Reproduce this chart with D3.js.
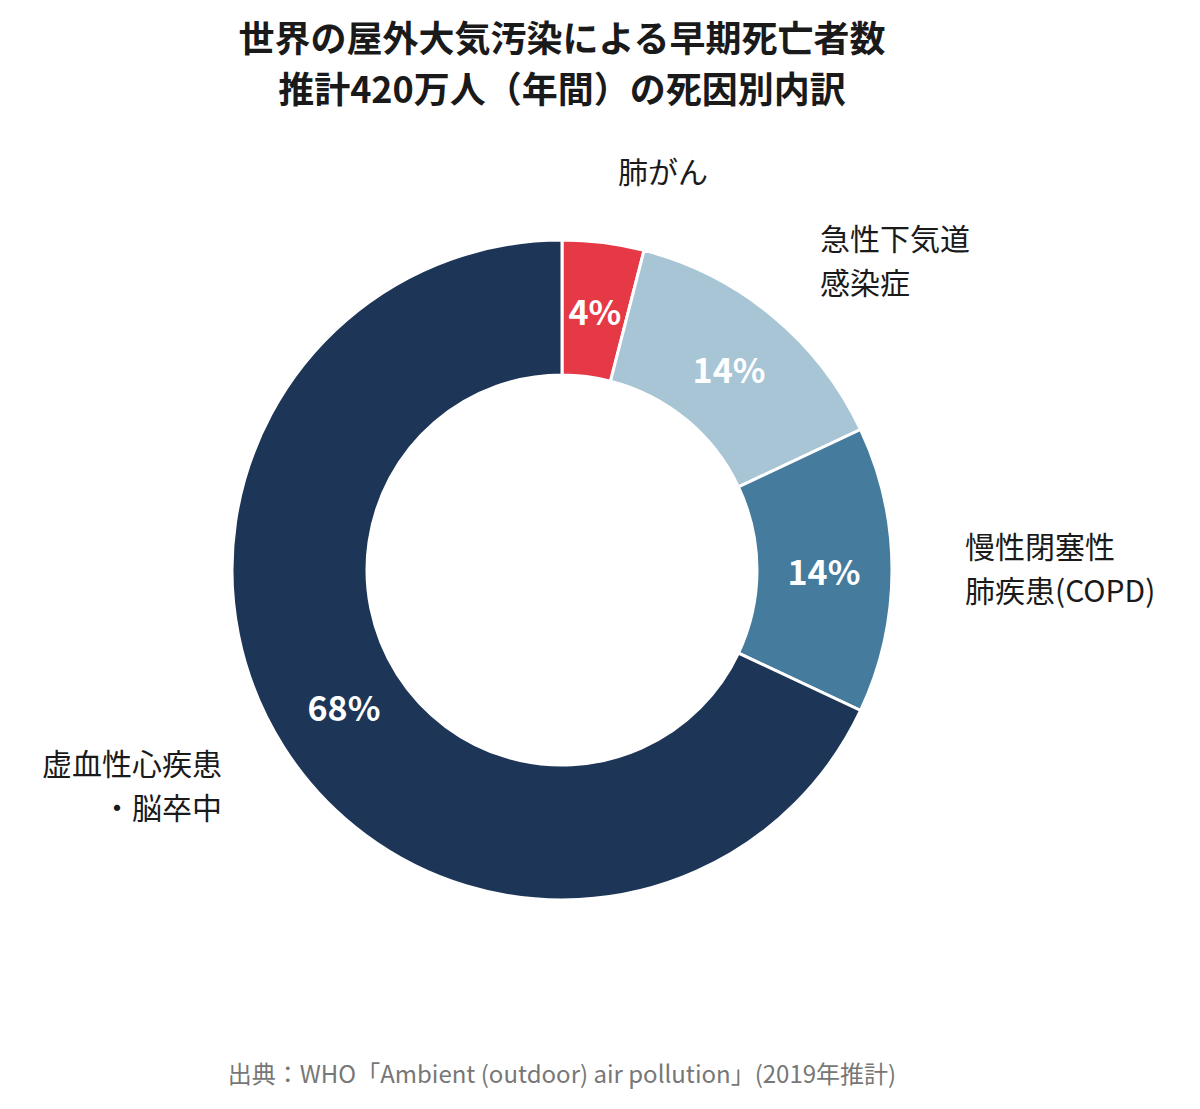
<!DOCTYPE html>
<html><head><meta charset="utf-8">
<script src="https://cdn.jsdelivr.net/npm/d3@7/dist/d3.min.js"></script>
<style>body{margin:0;background:#fff;font-family:"Noto Sans CJK JP","Noto Sans",sans-serif;}</style>
</head><body><svg id="c" width="1200" height="1109"></svg>
<script>
const categories = ["肺がん","急性下気道感染症","慢性閉塞性肺疾患(COPD)","虚血性心疾患・脳卒中"];
const values = [4,14,14,68];
const colors = ["#e63946","#a8c5d6","#457b9d","#1d3557"];
const labelLines = [["肺がん"],["急性下気道","感染症"],["慢性閉塞性","肺疾患(COPD)"],["虚血性心疾患","・脳卒中"]];
const labelPos = [[663,170,"middle"],[820,237,"start"],[965,545,"start"],[222,762,"end"]];

const svg = d3.select("#c");
const cx=562, cy=570, R=330, r=195;
svg.append("text").attr("x",562).attr("y",52).attr("text-anchor","middle").attr("font-size",36).attr("font-weight",700).attr("fill","#1a1a1a").text("世界の屋外大気汚染による早期死亡者数");
svg.append("text").attr("x",562).attr("y",103).attr("text-anchor","middle").attr("font-size",36).attr("font-weight",700).attr("fill","#1a1a1a").text("推計420万人（年間）の死因別内訳");

const pie = d3.pie().sort(null).value(d=>d)(values);
const arc = d3.arc().innerRadius(r).outerRadius(R);
const g = svg.append("g").attr("transform",`translate(${cx},${cy})`);
g.selectAll("path").data(pie).join("path").attr("d",arc).attr("fill",(d,i)=>colors[i]).attr("stroke","#fff").attr("stroke-width",3);
const la = d3.arc().innerRadius(262).outerRadius(262);
g.selectAll("text.p").data(pie).join("text").attr("class","p")
 .attr("transform",(d,i)=>{const c=la.centroid(d); if(i==0) return `translate(${c[0]},${c[1]})`; if(i==3) return `translate(-218,136)`; return `translate(${c[0]},${c[1]})`;})
 .attr("text-anchor","middle").attr("dominant-baseline","central").attr("font-size",34).attr("font-weight",700).attr("fill","#fff")
 .text(d=>d.value+"%");

labelLines.forEach((ls,i)=>{
  const t=svg.append("text").attr("x",labelPos[i][0]).attr("y",labelPos[i][1]).attr("text-anchor",labelPos[i][2]).attr("font-size",30).attr("fill","#1a1a1a").attr("dominant-baseline","central");
  ls.forEach((l,j)=>t.append("tspan").attr("x",labelPos[i][0]).attr("dy",j?44:0).text(l));
});
svg.append("text").attr("x",562).attr("y",1083).attr("text-anchor","middle").attr("font-size",24).attr("fill","#777").text("出典：WHO「Ambient (outdoor) air pollution」(2019年推計)");
</script></body></html>
